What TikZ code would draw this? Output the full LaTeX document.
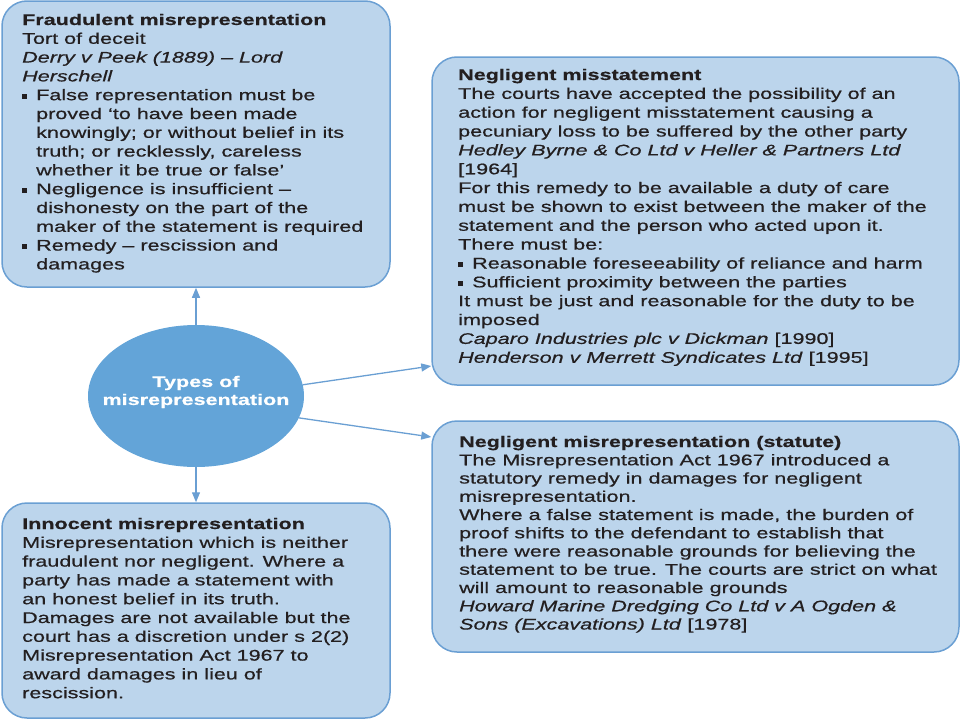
\documentclass[tikz,border=0pt]{standalone}
\usepackage{fontspec}
\setmainfont{Liberation Sans}[FakeStretch=1.40,FakeBold=0.6]
\usetikzlibrary{arrows.meta,shapes.geometric}
\definecolor{boxfill}{HTML}{BCD5EC}
\definecolor{boxline}{HTML}{6A9FD3}
\definecolor{ellfill}{HTML}{63A4D8}
\definecolor{txt}{HTML}{231F20}
\newcommand\bul{\makebox[14pt][l]{\rule[1.5pt]{5pt}{5pt}}}
\newcommand\ind{\hspace*{14pt}}
\newcommand\blk[3]{\vtop{\hsize=#1\relax\fontsize{15.4pt}{#2}\selectfont\raggedright\parindent=0pt\parskip=0pt #3}}
\tikzset{
  infobox/.style={draw=boxline, fill=boxfill, line width=1.5pt, rounded corners=25pt},
  boxtext/.style={anchor=base west, inner sep=0pt, text=txt},
  arr/.style={draw=boxline, line width=1.3pt, -{Triangle[length=10pt,width=8pt]}}
}
\begin{document}
\begin{tikzpicture}[x=1pt,y=-1pt]
\useasboundingbox (0,0) rectangle (960,720);
% boxes
\node[infobox, minimum width=388pt, minimum height=286pt] (box1) at (196,144) {};
\node[infobox, minimum width=527pt, minimum height=328pt] (box2) at (695.5,221) {};
\node[infobox, minimum width=527pt, minimum height=231pt] (box3) at (695.5,536.5) {};
\node[infobox, minimum width=388pt, minimum height=215pt] (box4) at (196,610.5) {};
% centre ellipse
\node[ellipse, fill=ellfill, minimum width=216pt, minimum height=142pt, inner sep=0pt, outer sep=0pt] (ell) at (196,396) {};
\node[text=white, align=center, inner sep=0pt, font=\bfseries\fontsize{15.4pt}{18pt}\selectfont] (lab) at (196,392) {Types of\\misrepresentation};
% texts
\node[boxtext] (t1) at (22,25) {\blk{370pt}{18.8pt}{%
\textbf{Fraudulent misrepresentation}\\
Tort of deceit\\
\textit{Derry v Peek (1889) – Lord}\\
\textit{Herschell}\\
\bul False representation must be\\
\ind proved ‘to have been made\\
\ind knowingly; or without belief in its\\
\ind truth; or recklessly, careless\\
\ind whether it be true or false’\\
\bul Negligence is insufficient –\\
\ind dishonesty on the part of the\\
\ind maker of the statement is required\\
\bul Remedy – rescission and\\
\ind damages}};
\node[boxtext] (t2) at (458,80) {\blk{495pt}{18.85pt}{%
\textbf{Negligent misstatement}\\
The courts have accepted the possibility of an\\
action for negligent misstatement causing a\\
pecuniary loss to be suffered by the other party\\
\textit{Hedley Byrne \& Co Ltd v Heller \& Partners Ltd}\\
{[1964]}\\
For this remedy to be available a duty of care\\
must be shown to exist between the maker of the\\
statement and the person who acted upon it.\\
There must be:\\
\bul Reasonable foreseeability of reliance and harm\\
\bul Sufficient proximity between the parties\\
It must be just and reasonable for the duty to be\\
imposed\\
\textit{Caparo Industries plc v Dickman} [1990]\\
\textit{Henderson v Merrett Syndicates Ltd} [1995]}};
\node[boxtext] (t3) at (459,447) {\blk{495pt}{18.25pt}{%
\textbf{Negligent misrepresentation (statute)}\\
The Misrepresentation Act 1967 introduced a\\
statutory remedy in damages for negligent\\
misrepresentation.\\
Where a false statement is made, the burden of\\
proof shifts to the defendant to establish that\\
there were reasonable grounds for believing the\\
statement to be true. The courts are strict on what\\
will amount to reasonable grounds\\
\textit{Howard Marine Dredging Co Ltd v A Ogden \&}\\
\textit{Sons (Excavations) Ltd} [1978]}};
\node[boxtext] (t4) at (22,529) {\blk{370pt}{18.8pt}{%
\textbf{Innocent misrepresentation}\\
Misrepresentation which is neither\\
fraudulent nor negligent. Where a\\
party has made a statement with\\
an honest belief in its truth.\\
Damages are not available but the\\
court has a discretion under s 2(2)\\
Misrepresentation Act 1967 to\\
award damages in lieu of\\
rescission.}};
% connectors
\coordinate (a1) at (0,366);
\coordinate (a2) at (0,437);
\draw[arr] (ell.north) -- (box1.south);
\draw[arr] (ell.south) -- (box4.north);
\draw[arr] (ell.6) -- (box2.west |- a1);
\draw[arr] (ell.-12) -- (box3.west |- a2);
\end{tikzpicture}
\end{document}
